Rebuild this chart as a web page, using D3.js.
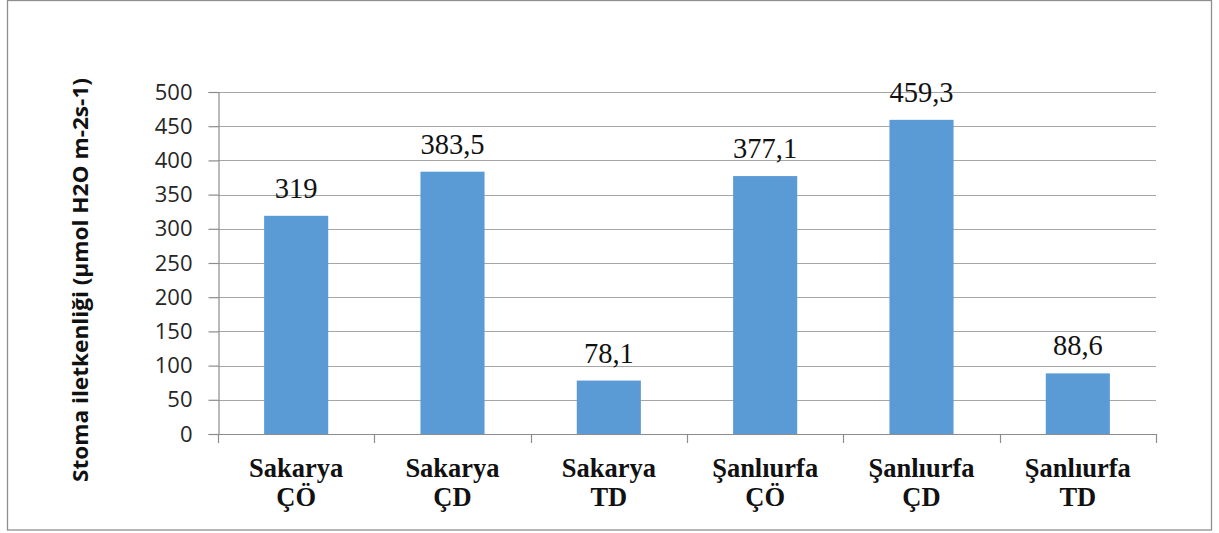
<!DOCTYPE html>
<html>
<head>
<meta charset="utf-8">
<script src="https://cdn.jsdelivr.net/npm/d3@7"></script>
<style>
  html, body { margin: 0; padding: 0; background: #fff; }
  svg { display: block; }
</style>
</head>
<body>
<svg id="chart" width="1219" height="533"></svg>
<script>
// Stoma iletkenliği by location and treatment
const categories = [
  ["Sakarya", "ÇÖ"],
  ["Sakarya", "ÇD"],
  ["Sakarya", "TD"],
  ["Şanlıurfa", "ÇÖ"],
  ["Şanlıurfa", "ÇD"],
  ["Şanlıurfa", "TD"]
];
const values = [319, 383.5, 78.1, 377.1, 459.3, 88.6];
const valueLabels = ["319", "383,5", "78,1", "377,1", "459,3", "88,6"];
const yTicks = [0, 50, 100, 150, 200, 250, 300, 350, 400, 450, 500];
const yTitle = "Stoma iletkenliği (µmol H2O m-2s-1)";

const svg = d3.select("#chart");
const plot = { left: 218, right: 1156, top: 92, bottom: 434 };

// outer chart frame
svg.append("rect")
  .attr("x", 7.5).attr("y", 0.5)
  .attr("width", 1204).attr("height", 529.5)
  .attr("fill", "#fff")
  .attr("stroke", "#8f8f8f")
  .attr("stroke-width", 1.3);

const x = d3.scaleBand()
  .domain(d3.range(categories.length))
  .range([plot.left, plot.right])
  .paddingInner(0.59)
  .paddingOuter(0.295);

const y = d3.scaleLinear().domain([0, 500]).range([plot.bottom, plot.top]);

// horizontal gridlines
svg.append("g")
  .selectAll("line")
  .data(yTicks.filter(d => d > 0))
  .join("line")
  .attr("x1", plot.left).attr("x2", plot.right)
  .attr("y1", d => Math.round(y(d)) + 0.5)
  .attr("y2", d => Math.round(y(d)) + 0.5)
  .attr("stroke", "#a6a6a6")
  .attr("stroke-width", 1.2);

// bars
svg.append("g")
  .selectAll("rect")
  .data(values)
  .join("rect")
  .attr("x", (d, i) => x(i))
  .attr("width", x.bandwidth())
  .attr("y", d => y(d))
  .attr("height", d => y(0) - y(d))
  .attr("fill", "#5b9bd5");

// value labels above bars
svg.append("g")
  .selectAll("text")
  .data(values)
  .join("text")
  .attr("x", (d, i) => x(i) + x.bandwidth() / 2)
  .attr("y", d => y(d) - 18)
  .attr("text-anchor", "middle")
  .attr("font-family", "Liberation Serif, Times New Roman, serif")
  .attr("font-size", 28.5)
  .attr("fill", "#111")
  .text((d, i) => valueLabels[i]);

// y axis
const yAxis = svg.append("g")
  .attr("transform", `translate(${plot.left + 0.5},0)`)
  .call(d3.axisLeft(y).tickValues(yTicks).tickSize(10).tickPadding(16).tickFormat(d3.format("d")));
yAxis.select(".domain").attr("stroke", "#8c8c8c").attr("stroke-width", 1.2);
yAxis.selectAll(".tick line").attr("stroke", "#8c8c8c").attr("stroke-width", 1.2);
yAxis.selectAll(".tick text")
  .attr("font-family", "Open Sans, sans-serif")
  .attr("font-size", 22)
  .attr("fill", "#262626");

// x axis line with ticks at category boundaries
const step = (plot.right - plot.left) / categories.length;
svg.append("line")
  .attr("x1", plot.left).attr("x2", plot.right)
  .attr("y1", plot.bottom + 0.5).attr("y2", plot.bottom + 0.5)
  .attr("stroke", "#8c8c8c").attr("stroke-width", 1.2);
svg.append("g")
  .selectAll("line")
  .data(d3.range(categories.length + 1))
  .join("line")
  .attr("x1", i => Math.round(plot.left + i * step) + 0.5)
  .attr("x2", i => Math.round(plot.left + i * step) + 0.5)
  .attr("y1", plot.bottom).attr("y2", plot.bottom + 9)
  .attr("stroke", "#8c8c8c").attr("stroke-width", 1.2);

// category labels (two lines)
const catText = svg.append("g")
  .selectAll("text")
  .data(categories)
  .join("text")
  .attr("text-anchor", "middle")
  .attr("font-family", "Liberation Serif, Times New Roman, serif")
  .attr("font-weight", "bold")
  .attr("font-size", 26.5)
  .attr("fill", "#111");
catText.each(function (d, i) {
  const cx = x(i) + x.bandwidth() / 2;
  const t = d3.select(this);
  t.append("tspan").attr("x", cx).attr("y", 477).text(d[0]);
  t.append("tspan").attr("x", cx).attr("y", 506).text(d[1]);
});

// y axis title
svg.append("text")
  .attr("transform", "translate(88,280) rotate(-90)")
  .attr("text-anchor", "middle")
  .attr("font-family", "Open Sans, sans-serif")
  .attr("font-weight", "bold")
  .attr("font-size", 20.5)
  .attr("textLength", 404)
  .attr("lengthAdjust", "spacingAndGlyphs")
  .attr("fill", "#111")
  .text(yTitle);
</script>
</body>
</html>
